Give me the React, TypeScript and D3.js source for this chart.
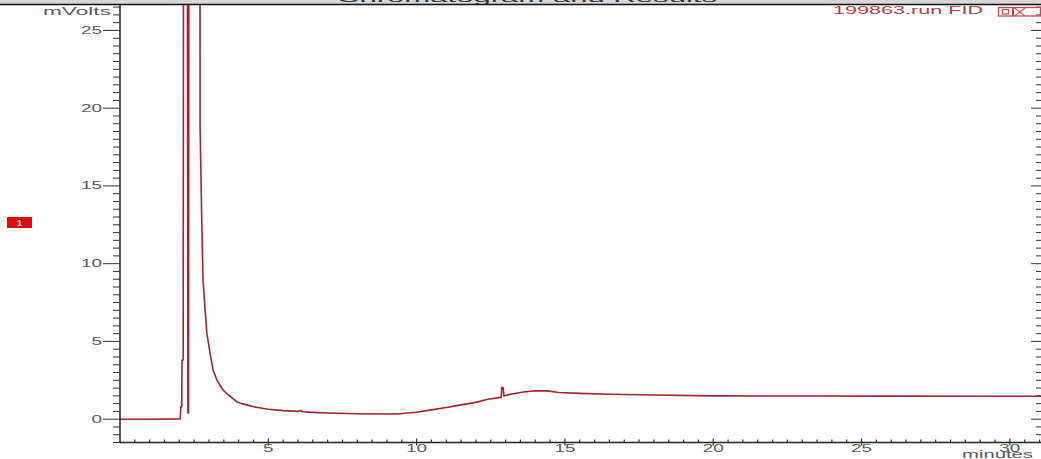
import React from 'react';
import * as d3 from 'd3';

// Retention time (minutes) and detector signal (mV)
const times = [
  0, 1.0, 2.03, 2.05, 2.08, 2.09, 2.13, 2.16, 2.24, 2.29, 2.31, 2.34, 2.68, 2.70,
  2.76, 2.80, 2.87, 2.93, 3.04, 3.14, 3.27, 3.37, 3.48, 3.60, 3.82, 3.94, 4.1,
  4.28, 4.5, 4.75, 5.0, 5.5, 6.0, 6.08, 6.16, 6.5, 7.0, 8.0, 9.0, 9.5, 10.0, 10.5,
  11.0, 11.5, 12.0, 12.4, 12.85, 12.87, 12.92, 12.94, 13.2, 13.6, 14.0, 14.4,
  14.8, 15.5, 16.5, 18, 20, 23, 26, 29, 31.1,
];
const signal = [
  0, 0, 0.02, 0.8, 0.8, 3.8, 3.8, 80, 80, 0.4, 0.4, 80, 80, 18.8,
  12.4, 8.9, 7.0, 5.5, 4.2, 3.15, 2.5, 2.2, 1.86, 1.65, 1.3, 1.12, 1.0,
  0.92, 0.8, 0.72, 0.64, 0.55, 0.5, 0.56, 0.48, 0.44, 0.4, 0.35, 0.33, 0.36, 0.45, 0.6,
  0.75, 0.92, 1.08, 1.28, 1.4, 2.05, 2.0, 1.5, 1.62, 1.75, 1.83, 1.82,
  1.72, 1.66, 1.6, 1.55, 1.5, 1.49, 1.48, 1.47, 1.47,
];

const yMajorTicks = [0, 5, 10, 15, 20, 25];
const yTickLabels = ['0', '5', '10', '15', '20', '25'];
const xMajorTicks = [5, 10, 15, 20, 25, 30];
const xTickLabels = ['5', '10', '15', '20', '25', '30'];
const runName = '199863.run FID';
const yAxisTitle = 'mVolts';
const xAxisTitle = 'minutes';
const peakMarker = '1';
const windowTitle = 'Chromatogram and Results';

export default function App() {
  const W = 1041;
  const H = 459;
  const left = 120;
  const right = 1041;
  const top = 4;
  const bottom = 442.5;
  const x = d3.scaleLinear().domain([0, 31.05]).range([left, right]);
  const y = d3.scaleLinear().domain([-1.5, 26.7]).range([bottom, top]);
  const pts: [number, number][] = times.map((t, i) => [t, signal[i]]);
  const line = d3
    .line<[number, number]>()
    .x((d) => x(d[0]))
    .y((d) => y(d[1]));

  const yMinor = d3.range(-3, 54).map((i) => i * 0.5).filter((v) => v % 5 !== 0);
  const xMinor = d3.range(1, 63).map((i) => i * 0.5).filter((v) => v % 5 !== 0);
  const font = "'Liberation Sans', Arial, sans-serif";
  const gray = '#5a5a5a';

  return (
    <svg
      width={W}
      height={H}
      style={{ position: 'absolute', left: 0, top: 0, background: '#fff' }}
    >
      <defs>
        <clipPath id="plot">
          <rect x={left} y={top + 1} width={right - left} height={bottom - top - 1} />
        </clipPath>
        <clipPath id="band">
          <rect x={0} y={0} width={W} height={4} />
        </clipPath>
      </defs>
      <rect x={0} y={0} width={W} height={H} fill="#ffffff" />

      {/* title band (title text mostly scrolled off the top) */}
      <rect x={0} y={0} width={W} height={4} fill="#d6d6d6" />
      <g clipPath="url(#band)">
        <text
          x={337}
          y={1.6}
          fontFamily={font}
          fontSize={12}
          fill="#333"
          textLength={380}
          lengthAdjust="spacingAndGlyphs"
        >
          {windowTitle}
        </text>
      </g>
      <line x1={0} x2={W} y1={4.5} y2={4.5} stroke="#111" strokeWidth={1.5} />

      {/* trace */}
      <path
        d={line(pts) || ''}
        fill="none"
        stroke="#a8222a"
        strokeWidth={1.6}
        strokeLinejoin="round"
        clipPath="url(#plot)"
      />

      {/* y axis */}
      <line x1={left} x2={left} y1={top} y2={bottom} stroke="#222" strokeWidth={1.5} />
      {yMinor.map((v) => (
        <line key={'ym' + v} x1={left - 7} x2={left} y1={y(v)} y2={y(v)} stroke="#333" strokeWidth={1} />
      ))}
      {yMajorTicks.map((v, i) => (
        <g key={'yM' + v}>
          <line x1={left - 17} x2={left} y1={y(v)} y2={y(v)} stroke="#333" strokeWidth={1} />
          <text
            x={left - 18}
            y={y(v) + 3.5}
            textAnchor="end"
            fontFamily={font}
            fontSize={10}
            fill={gray}
            textLength={yTickLabels[i].length * 10.5}
            lengthAdjust="spacingAndGlyphs"
          >
            {yTickLabels[i]}
          </text>
        </g>
      ))}
      <text
        x={43}
        y={15}
        fontFamily={font}
        fontSize={10}
        fill={gray}
        textLength={68}
        lengthAdjust="spacingAndGlyphs"
      >
        {yAxisTitle}
      </text>

      {/* right-side ticks */}
      {yMinor.map((v) => (
        <line key={'yr' + v} x1={right - 5} x2={right} y1={y(v)} y2={y(v)} stroke="#333" strokeWidth={1} />
      ))}
      {yMajorTicks.map((v) => (
        <line key={'yR' + v} x1={right - 10} x2={right} y1={y(v)} y2={y(v)} stroke="#333" strokeWidth={1} />
      ))}

      {/* x axis */}
      <line x1={left} x2={right} y1={bottom} y2={bottom} stroke="#222" strokeWidth={1.5} />
      {xMinor.map((v) => (
        <line key={'xm' + v} x1={x(v)} x2={x(v)} y1={bottom - 3} y2={bottom} stroke="#333" strokeWidth={1.2} />
      ))}
      {xMajorTicks.map((v, i) => (
        <g key={'xM' + v}>
          <line x1={x(v)} x2={x(v)} y1={bottom - 4} y2={bottom + 3} stroke="#333" strokeWidth={1.2} />
          <text
            x={x(v)}
            y={452}
            textAnchor="middle"
            fontFamily={font}
            fontSize={10}
            fill={gray}
            textLength={xTickLabels[i].length * 10.5}
            lengthAdjust="spacingAndGlyphs"
          >
            {xTickLabels[i]}
          </text>
        </g>
      ))}
      <text
        x={962}
        y={458}
        fontFamily={font}
        fontSize={10}
        fill={gray}
        textLength={71}
        lengthAdjust="spacingAndGlyphs"
      >
        {xAxisTitle}
      </text>

      {/* run name and window buttons */}
      <text
        x={833}
        y={14}
        fontFamily={font}
        fontSize={10}
        fill="#b83a3a"
        textLength={150}
        lengthAdjust="spacingAndGlyphs"
      >
        {runName}
      </text>
      <rect x={998.5} y={7.5} width={14} height={8.5} fill="none" stroke="#c24a4a" strokeWidth={1.3} />
      <rect x={1002.5} y={9.5} width={6} height={4.5} fill="none" stroke="#c24a4a" strokeWidth={1.2} />
      <rect x={1013.5} y={7.5} width={27} height={8.5} fill="none" stroke="#c24a4a" strokeWidth={1.3} />
      <line x1={1014.5} x2={1025} y1={8} y2={16} stroke="#c24a4a" strokeWidth={1.1} />
      <line x1={1014.5} x2={1025} y1={16} y2={8} stroke="#c24a4a" strokeWidth={1.1} />

      {/* peak marker */}
      <rect x={7} y={217} width={25} height={11} fill="#e00a0a" />
      <text x={19.5} y={225.5} textAnchor="middle" fontFamily={font} fontSize={9} fontWeight="bold" fill="#fff">
        {peakMarker}
      </text>
    </svg>
  );
}
